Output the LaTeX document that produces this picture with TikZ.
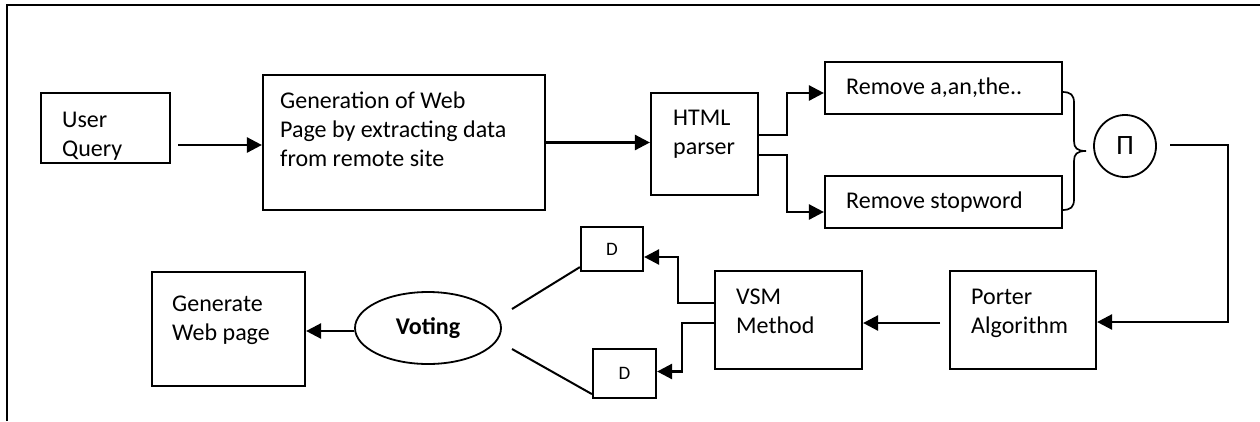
\documentclass[tikz,border=0pt]{standalone}
\usepackage{fontspec}
\setmainfont{Carlito}
\usetikzlibrary{arrows.meta,shapes.geometric}
\tikzset{
  box/.style={draw, line width=2.2pt, inner sep=0pt, rectangle},
  txt/.style={anchor=base west, inner sep=0pt, align=left, font=\fontsize{24}{29}\selectfont},
  arr/.style={line width=2.6pt, -{Triangle[length=15pt,width=15pt]}},
  ln/.style={line width=2pt}
}
\begin{document}
\begin{tikzpicture}[x=1pt,y=-1pt]
\useasboundingbox (0,0) rectangle (1260,421);
% frame
\draw[line width=2.6pt] (7,421) -- (7,5) -- (1260,5);
% boxes
\node[box, minimum width=129, minimum height=70] (uq) at (105.5,128) {};
\node[box, minimum width=282, minimum height=135] (gen) at (404,142.5) {};
\node[box, minimum width=107, minimum height=102] (html) at (704.5,144) {};
\node[box, minimum width=237, minimum height=52] (rm1) at (943.5,88) {};
\node[box, minimum width=237, minimum height=52] (rm2) at (943.5,202) {};
\node[draw, circle, line width=1.8pt, minimum size=62, inner sep=0pt, font=\fontsize{28}{30}\selectfont] (pi) at (1125,146) {\raisebox{-2pt}{Π}};
\node[box, minimum width=146, minimum height=98] (porter) at (1023,320) {};
\node[box, minimum width=147, minimum height=98] (vsm) at (788.5,320) {};
\node[box, minimum width=62, minimum height=44, font=\fontsize{19}{22}\selectfont] (d1) at (612,249) {D};
\node[box, minimum width=63, minimum height=49, font=\fontsize{19}{22}\selectfont] (d2) at (624.5,373.5) {D};
\node[draw, ellipse, line width=1.8pt, minimum width=146, minimum height=72, inner sep=0pt, font=\fontsize{24}{28}\selectfont\bfseries] (voting) at (428,328) {Voting};
\node[box, minimum width=153, minimum height=114] (genweb) at (228.5,329) {};
% texts (base anchor = baseline of last line)
\node[txt] (tuq) at (62,156) {User\\Query};
\node[txt] (tgen) at (280,166) {Generation of Web\\Page by extracting data\\from remote site};
\node[txt] (thtml) at (673,154) {HTML\\parser};
\node[txt] (trm1) at (846,94) {Remove a,an,the..};
\node[txt] (trm2) at (846,208) {Remove stopword};
\node[txt] (tporter) at (971,333) {Porter\\Algorithm};
\node[txt] (tvsm) at (736,333) {VSM\\Method};
\node[txt] (tgenweb) at (172,340) {Generate\\Web page};
% connectors
\coordinate (a1) at (178,145);
\draw[arr] (a1) -- (a1 -| gen.west);
\draw[arr] (gen.east) -- (gen.east -| html.west);
\draw[arr] ([yshift=9]html.east) -- ++(28,0) |- ([yshift=-5]rm1.west);
\draw[arr] ([yshift=-11]html.east) -- ++(28,0) |- ([yshift=-10]rm2.west);
% brace
\draw[line width=1.7pt] (1062,92) .. controls (1071,92) and (1074,95) .. (1074,103) -- (1074,141)
  .. controls (1074,148) and (1077,151) .. (1086,151)
  .. controls (1077,151) and (1074,154) .. (1074,161) -- (1074,199)
  .. controls (1074,207) and (1071,210) .. (1062,210);
\coordinate (c1) at (1170,145);
\draw[arr] (c1) -- (1228,145) |- ([yshift=-2]porter.east);
\coordinate (c2) at (940,323);
\draw[arr] (c2) -- (c2 -| vsm.east);
\draw[arr] ([yshift=17]vsm.west) -- ++(-36,0) |- ([yshift=-8]d1.east);
\draw[arr] ([yshift=-3]vsm.west) -- ++(-32,0) |- ([yshift=2]d2.east);
\coordinate (v1) at (512,309);
\coordinate (v2) at (512,349);
\draw[ln] (v1) -- ([yshift=5]d1.south west);
\draw[ln] (v2) -- ([yshift=5]d2.south west);
\draw[arr] ([yshift=-3]voting.west) -- ([yshift=-3]voting.west -| genweb.east);
\end{tikzpicture}
\end{document}
